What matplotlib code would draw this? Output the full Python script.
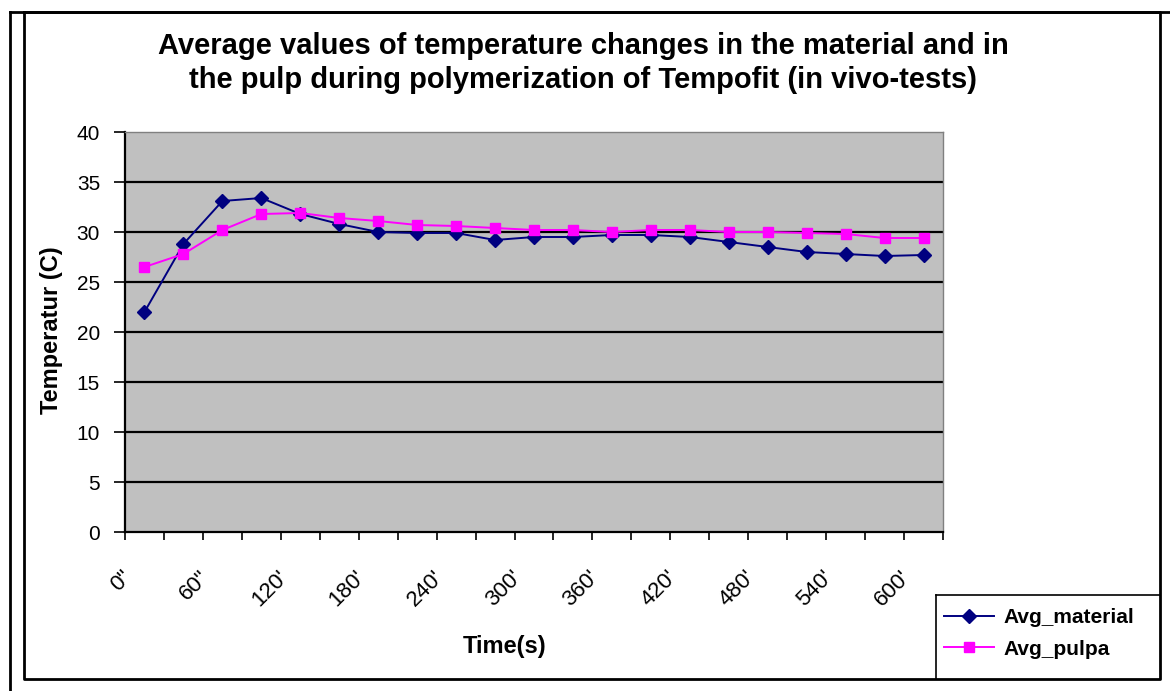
import matplotlib
matplotlib.use("Agg")
import matplotlib.pyplot as plt
import matplotlib.transforms as mtransforms
from matplotlib.lines import Line2D

plt.rcParams['font.family'] = ['Liberation Sans', 'DejaVu Sans']

# time points (seconds), one every 30"
times = [0, 30, 60, 90, 120, 150, 180, 210, 240, 270, 300,
         330, 360, 390, 420, 450, 480, 510, 540, 570, 600]
avg_material = [22.0, 28.8, 33.1, 33.4, 31.8, 30.8, 30.0, 29.9, 29.9, 29.2, 29.5,
                29.5, 29.7, 29.7, 29.5, 29.0, 28.5, 28.0, 27.8, 27.6, 27.7]
avg_pulpa = [26.5, 27.8, 30.2, 31.8, 31.9, 31.4, 31.1, 30.7, 30.6, 30.4, 30.2,
             30.2, 30.0, 30.2, 30.2, 30.0, 30.0, 29.9, 29.8, 29.4, 29.4]
tick_labels = ['0"', '60"', "120'", "180'", "240'", "300'", "360'",
               "420'", "480'", "540'", "600'"]

W, H = 1170, 691
fig = plt.figure(figsize=(W / 100, H / 100), dpi=100)

# plot area in pixels
left, right, top, bottom = 125, 943, 132, 532
ax = fig.add_axes([left / W, 1 - bottom / H, (right - left) / W, (bottom - top) / H])
ax.set_facecolor('#C0C0C0')

x = list(range(len(times)))
ax.plot(x, avg_material, color='#000080', lw=1.4, marker='D', ms=7,
        label='Avg_material', zorder=3)
ax.plot(x, avg_pulpa, color='#FF00FF', lw=1.4, marker='s', ms=7.5,
        label='Avg_pulpa', zorder=3)

ax.set_xlim(-0.5, len(times) - 0.5)
ax.set_ylim(0, 40)
ax.set_yticks(range(0, 41, 5))
for v in range(5, 40, 5):
    ax.axhline(v, color='black', lw=1.6, zorder=1)

ax.set_xticks([i - 0.5 for i in range(len(times) + 1)])
ax.set_xticklabels([])
ax.set_xticks(x[::2], minor=True)
ax.set_xticklabels(tick_labels, minor=True, rotation=45, ha='right', va='center',
                   rotation_mode='anchor', fontsize=16)
ax.tick_params(axis='x', which='major', length=6, width=1.2, direction='out')
ax.tick_params(axis='x', which='minor', length=0, pad=30)
ax.tick_params(axis='y', length=8, width=1.2, labelsize=15, pad=10)
offset = mtransforms.ScaledTranslation(-16 / 100, 0, fig.dpi_scale_trans)
for lbl in ax.get_xticklabels(minor=True):
    lbl.set_transform(lbl.get_transform() + offset)

for s in ['top', 'right']:
    ax.spines[s].set_color('#808080')
    ax.spines[s].set_linewidth(1.0)
for s in ['left', 'bottom']:
    ax.spines[s].set_color('black')
    ax.spines[s].set_linewidth(1.6)

fig.text(583 / W, 1 - 63 / H,
         'Average values of temperature changes in the material and in\n'
         'the pulp during polymerization of Tempofit (in vivo-tests)',
         ha='center', va='center', fontsize=21, fontweight='bold', linespacing=1.25)
fig.text(52 / W, 1 - 330 / H, 'Temperatur (C)', rotation=90, ha='center', va='center',
         fontsize=17, fontweight='bold')
fig.text(505 / W, 1 - 647 / H, 'Time(s)', ha='center', va='center',
         fontsize=17, fontweight='bold')

fig.legend(loc='upper left', bbox_to_anchor=(940 / W, 1 - 604 / H), frameon=False,
           prop={'weight': 'bold', 'size': 15}, handlelength=2.4, handletextpad=0.45,
           labelspacing=0.6, borderpad=0.2, borderaxespad=0)


def fline(xs, ys, lw=2.0):
    fig.add_artist(Line2D([v / W for v in xs], [1 - v / H for v in ys],
                          color='black', lw=lw, transform=fig.transFigure))


# legend box edges (clipped by the chart border)
fline([936, 1160], [595, 595], lw=1.2)
fline([936, 936], [595, 679], lw=1.2)
# chart border and outer frame
fline([24, 1160, 1160, 24, 24], [12, 12, 679, 679, 12])
fline([10, 10], [12, 691])
fline([10, 1170], [12, 12])

fig.savefig('out.png', dpi=100)
